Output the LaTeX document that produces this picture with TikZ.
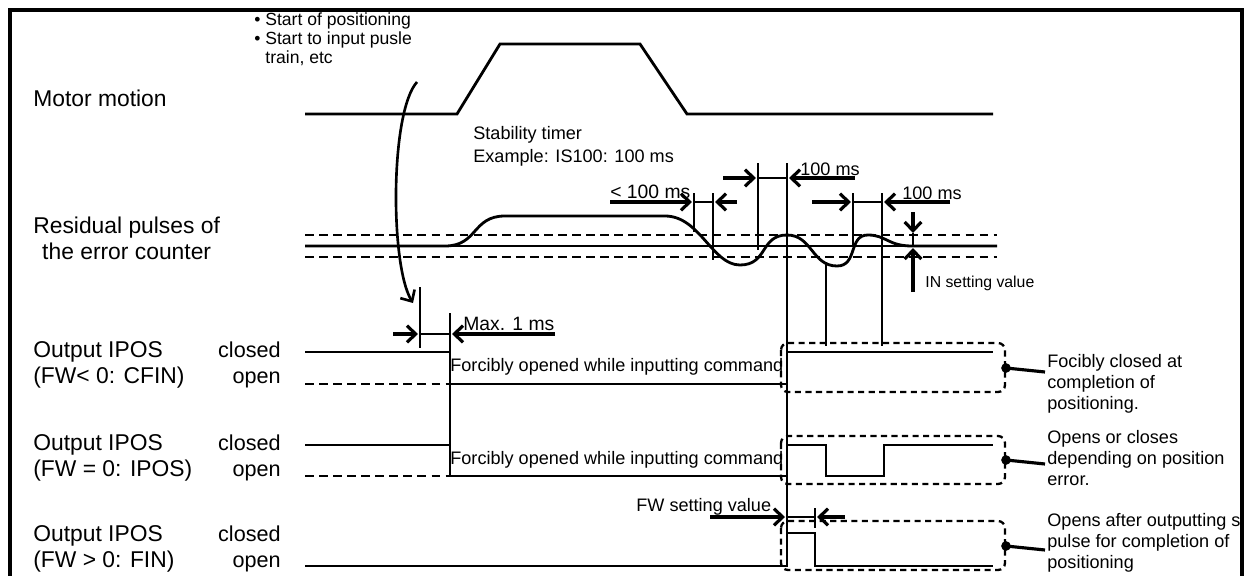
\documentclass[tikz,border=0pt]{standalone}
\usepackage{fontspec}
\setmainfont{Liberation Sans}
\usetikzlibrary{arrows.meta, positioning}

\tikzset{
    lbl/.style={font=\fontsize{13}{14.8}\selectfont, inner sep=0pt, anchor=west, align=left},
    lvl/.style={font=\fontsize{12.3}{14.8}\selectfont, inner sep=0pt, anchor=east, align=right},
    note/.style={font=\fontsize{10.3}{12}\selectfont, inner sep=0pt, anchor=west, align=left},
    small/.style={font=\fontsize{9}{11}\selectfont, inner sep=0pt, anchor=west},
    frame/.style={line width=2.6pt},
    sig/.style={line width=1.6pt},
    guide/.style={line width=0.6pt},
    band/.style={line width=1.3pt, dash pattern=on 5pt off 3pt},
    dbox/.style={line width=1.3pt, dash pattern=on 3.5pt off 2.5pt, rounded corners=4pt},
    dim/.style={line width=1.8pt, -{Straight Barb[length=5pt, width=9.5pt]}},
    dot/.style={circle, fill, inner sep=0pt, minimum size=5.5pt},
    lead/.style={line width=1.8pt}
}

\begin{document}
\begin{tikzpicture}[x=0.02cm, y=-0.02cm]
\useasboundingbox (0,0) rectangle (1248,575);
\draw[frame] (10,585) -- (10,10) -- (1242,10) -- (1242,585);

% row labels
\node[lbl] (motor) at (33,98) {Motor motion};
\node[lbl, align=center] (residual) at (33,238) {Residual pulses of\\the error counter};
\node[lbl] (out1) at (33,365) {Output IPOS\\(FW< 0: CFIN)};
\node[lbl] (out2) at (33,458) {Output IPOS\\(FW = 0: IPOS)};
\node[lbl] (out3) at (33,549) {Output IPOS\\(FW > 0: FIN)};
\node[lvl] (lvl1) at (281,365) {closed\\open};
\node[lvl] (lvl2) at (281,458) {closed\\open};
\node[lvl] (lvl3) at (281,549) {closed\\open};

% notes
\node[note, font=\fontsize{10}{10.8}\selectfont, anchor=north west] (bullets) at (254,12)
    {\textbullet\ Start of positioning\\\textbullet\ Start to input pusle\\\phantom{\textbullet\ }train, etc};
\node[note, font=\fontsize{10.3}{13}\selectfont] (timer) at (473,146) {Stability timer\\Example: IS100: 100 ms};

% motor motion
\draw[sig] (305,114) -- (457,114) -- (500,44) -- (640,44) -- (687,114) -- (993,114);

% residual pulses
\draw[guide] (305,246) -- (997,246);
\draw[band] (305,235) -- (997,235);
\draw[band] (305,257) -- (997,257);
\draw[sig] (305,246) -- (445,246) .. controls (478,246) and (472,216) .. (505,216) -- (665,216)
    .. controls (700,216) and (712,265) .. (740,265) .. controls (768,265) and (760,235) .. (787,235)
    .. controls (812,235) and (812,266) .. (837,266) .. controls (858,266) and (848,235) .. (868,235)
    .. controls (886,235) and (888,246) .. (912,246) -- (997,246);

% outputs
\draw[sig] (305,352) -- (450,352) -- (450,384) -- (787,384) -- (787,352) -- (993,352);
\draw[band, line width=1.6pt] (305,384) -- (450,384);
\draw[sig] (305,445) -- (450,445) -- (450,476) -- (787,476) -- (787,445) -- (826,445) -- (826,476)
    -- (884,476) -- (884,445) -- (993,445);
\draw[band, line width=1.6pt] (305,476) -- (450,476);
\draw[sig] (305,566) -- (787,566) -- (787,533) -- (815,533) -- (815,566) -- (993,566);

\node[note, anchor=west] (forced1) at (450,367) {Forcibly opened while inputting command};
\node[note, anchor=west] (forced2) at (450,460) {Forcibly opened while inputting command};

% start of input
\coordinate (cstart) at (417,82);
\coordinate (cend) at (413,303);
\draw[dim, line width=1.5pt] (cstart) .. controls (390,112) and (390,265) .. (cend);
\draw[guide] (420,287) -- (420,348);
\draw[guide] (450,313) -- (450,445);
\draw[guide] (420,334) -- (450,334);
\draw[dim] (393,334) -- (418,334);
\draw[dim] (555,334) -- (452,334);
\node[note, anchor=base west, font=\fontsize{11}{13}\selectfont] (max1) at (463,330) {Max. 1 ms};

% stability timer
\draw[guide] (694,193) -- (694,232);
\draw[guide] (713,193) -- (713,260);
\draw[guide] (694,202) -- (713,202);
\draw[dim] (610,202) -- (692,202);
\draw[dim] (737,202) -- (715,202);
\node[note, anchor=base west, font=\fontsize{11}{13}\selectfont] (lt100) at (610,198) {< 100 ms};

\draw[guide] (758,163) -- (758,250);
\draw[guide] (787,163) -- (787,533);
\draw[guide] (758,178) -- (787,178);
\draw[dim] (723,178) -- (756,178);
\draw[dim] (855,178) -- (789,178);
\node[note, anchor=base west] (t100a) at (800,175) {100 ms};

\draw[guide] (826,262) -- (826,346);
\draw[guide] (853,193) -- (853,247);
\draw[guide] (882,193) -- (882,346);
\draw[guide] (853,202) -- (882,202);
\draw[dim] (812,202) -- (851,202);
\draw[dim] (950,202) -- (884,202);
\node[note, anchor=base west] (t100b) at (902,199) {100 ms};

% in-position band
\draw[dim] (913,212) -- (913,233);
\draw[guide] (913,233) -- (913,246);
\draw[dim] (913,292) -- (913,248);
\node[small] (inval) at (925,283) {IN setting value};

% FW setting
\draw[guide] (815,508) -- (815,528);
\draw[guide] (787,517) -- (815,517);
\draw[dim] (710,517) -- (785,517);
\draw[dim] (845,517) -- (817,517);
\node[note, anchor=base west] (fwval) at (636,511) {FW setting value};

% completion boxes
\draw[dbox] (781,343) rectangle (1005,392);
\draw[dbox] (781,436) rectangle (1005,484);
\draw[dbox] (781,521) rectangle (1005,570);
\node[dot] (d1) at (1006,368) {};
\node[dot] (d2) at (1006,460) {};
\node[dot] (d3) at (1006,546) {};
\node[note] (c1) at (1047,384) {Focibly closed at\\completion of\\positioning.};
\node[note] (c2) at (1047,458) {Opens or closes\\depending on position\\error.};
\node[note] (c3) at (1047,543) {Opens after outputting s\\pulse for completion of\\positioning};
\draw[lead] (d1.center) -- ++(39,4);
\draw[lead] (d2.center) -- ++(39,4);
\draw[lead] (d3.center) -- ++(39,4);
\end{tikzpicture}
\end{document}
